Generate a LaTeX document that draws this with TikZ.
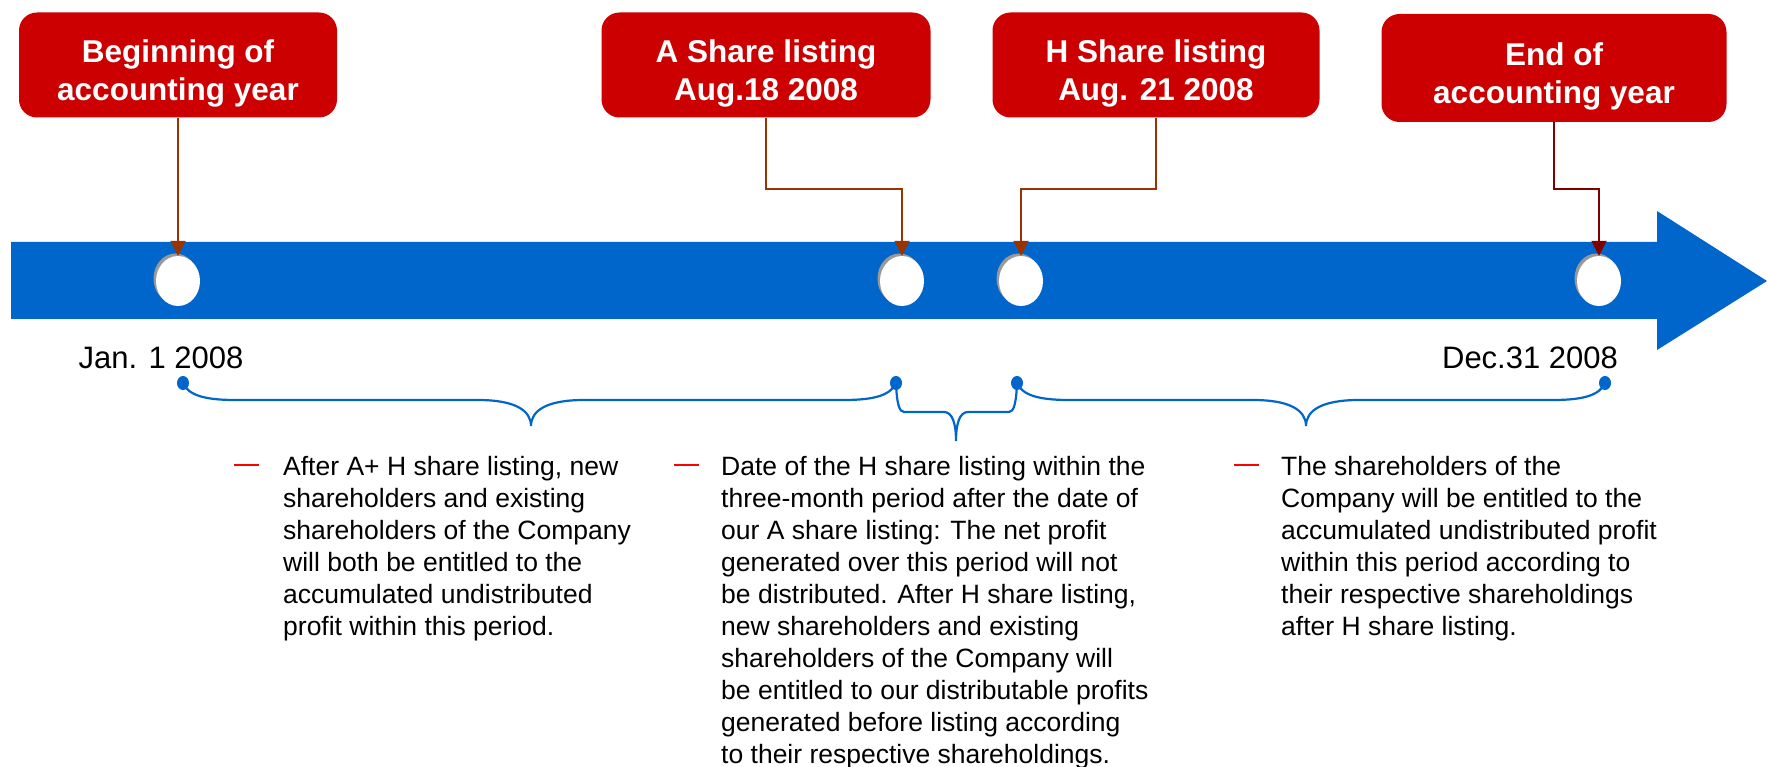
\documentclass[tikz,border=0pt]{standalone}
\usepackage{fontspec}
\setmainfont{Liberation Sans}
\usetikzlibrary{arrows.meta,shapes.geometric,shadows,positioning}
\definecolor{boxred}{RGB}{204,0,0}
\definecolor{bandblue}{RGB}{0,102,204}
\definecolor{rust}{RGB}{153,51,0}
\definecolor{darkrust}{RGB}{128,0,0}
\begin{document}
\begin{tikzpicture}[x=1pt,y=-1pt,
  eventbox/.style={fill=boxred, rounded corners=18pt, minimum height=105pt},
  boxtext/.style={text=white, align=center, font=\bfseries\fontsize{31.5}{38.5}\selectfont},
  marker/.style={ellipse, fill=white, minimum width=44pt, minimum height=50pt, inner sep=0pt,
    drop shadow={shadow xshift=-2.5pt, shadow yshift=2.5pt, fill=black!40, opacity=1}},
  pointer/.style={draw=rust, line width=1.8pt, -{Triangle[length=15pt,width=15pt]}},
  datelabel/.style={font=\fontsize{31}{37}\selectfont},
  enddot/.style={ellipse, fill=bandblue, minimum width=12pt, minimum height=14pt, inner sep=0pt},
  span/.style={draw=bandblue, line width=2.2pt},
  dashmark/.style={fill=red, minimum width=25pt, minimum height=2pt, inner sep=0pt},
  note/.style={anchor=north west, inner sep=0pt, align=left, font=\fontsize{26.5}{32}\selectfont}]
  \useasboundingbox (0,0) rectangle (1767,767);
  % time band
  \fill[bandblue] (11,242) -- (1657,242) -- (1657,211) -- (1767,281)
    -- (1657,350) -- (1657,319) -- (11,319) -- cycle;

  % events
  \node[eventbox, minimum width=318pt] (begin) at (178,65) {};
  \node[eventbox, minimum width=329pt] (alist) at (766,65) {};
  \node[eventbox, minimum width=327pt] (hlist) at (1156,65) {};
  \node[eventbox, minimum width=345pt, minimum height=108pt] (yearend) at (1554,68) {};
  \node[boxtext] (begintext) at ([yshift=-8.5pt]begin.center) {Beginning of\\accounting year};
  \node[boxtext] (alisttext) at ([yshift=-8.5pt]alist.center) {A Share listing\\Aug.18 2008};
  \node[boxtext] (hlisttext) at ([yshift=-8.5pt]hlist.center) {H Share listing\\Aug. 21 2008};
  \node[boxtext] (yearendtext) at ([yshift=-8.5pt]yearend.center) {End of\\accounting year};

  \node[marker] (m1) at (178,281) {};
  \node[marker] (m2) at (902,281) {};
  \node[marker] (m3) at (1021,281) {};
  \node[marker] (m4) at (1599,281) {};

  \coordinate (knee) at (0,189);
  \draw[pointer] (begin.south) -- (m1.north);
  \draw[pointer] (alist.south) -- (alist.south |- knee) -| (m2.north);
  \draw[pointer] (hlist.south) -- (hlist.south |- knee) -| (m3.north);
  \draw[pointer, draw=darkrust] (yearend.south) -- (yearend.south |- knee) -| (m4.north);

  \node[datelabel] (jan) at (161,358) {Jan. 1 2008};
  \node[datelabel] (dec) at (1530,358) {Dec.31 2008};

  % periods
  \node[enddot] (d1) at (183,383) {};
  \node[enddot] (d2) at (896,383) {};
  \node[enddot] (d3) at (1017,383) {};
  \node[enddot] (d4) at (1605,383) {};
  \foreach \xa/\xb/\xm/\h/\t/\w/\u in {183/896/531/17/43/52/53, 896/1017/956/29/58/8/12, 1017/1605/1306/17/43/52/53} {
    \draw[span] (\xa,383) .. controls ({\xa+0.1*\w},{383+0.7*\h}) and ({\xa+0.4*\w},{383+\h}) .. ({\xa+\w},{383+\h})
      -- ({\xm-\u},{383+\h}) .. controls ({\xm-0.3*\u},{383+\h}) and (\xm,{383+0.6*\h+0.4*\t}) .. (\xm,{383+\t})
      .. controls (\xm,{383+0.6*\h+0.4*\t}) and ({\xm+0.3*\u},{383+\h}) .. ({\xm+\u},{383+\h})
      -- ({\xb-\w},{383+\h}) .. controls ({\xb-0.4*\w},{383+\h}) and ({\xb-0.1*\w},{383+0.7*\h}) .. (\xb,383);
  }

  % notes
  \node[dashmark] (dash1) at (246,465) {};
  \node[dashmark] (dash2) at (686,465) {};
  \node[dashmark] (dash3) at (1246,465) {};
  \node[note] (note1) at (283,456) {After A+ H share listing, new\\shareholders and existing\\shareholders of the Company\\will both be entitled to the\\accumulated undistributed\\profit within this period.};
  \node[note] (note2) at (721,456) {Date of the H share listing within the\\three-month period after the date of\\our A share listing: The net profit\\generated over this period will not\\be distributed. After H share listing,\\new shareholders and existing\\shareholders of the Company will\\be entitled to our distributable profits\\generated before listing according\\to their respective shareholdings.};
  \node[note] (note3) at (1281,456) {The shareholders of the\\Company will be entitled to the\\accumulated undistributed profit\\within this period according to\\their respective shareholdings\\after H share listing.};
\end{tikzpicture}
\end{document}
